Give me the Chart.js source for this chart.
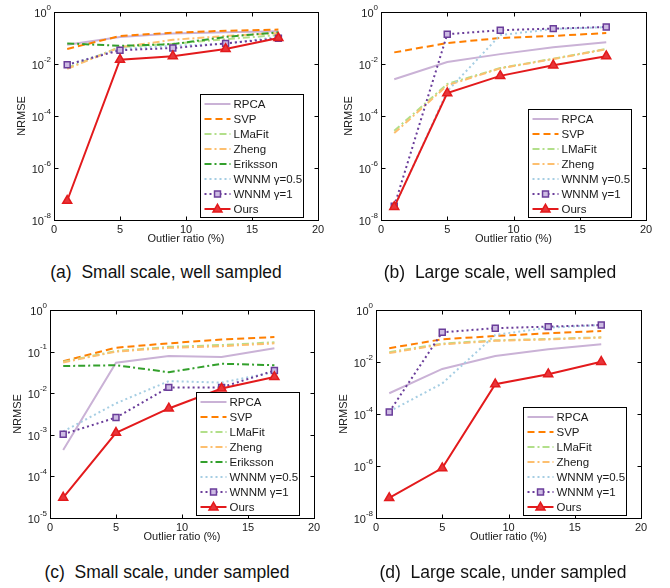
<!DOCTYPE html>
<html><head><meta charset="utf-8">
<script src="https://cdn.jsdelivr.net/npm/chart.js@4.4.1/dist/chart.umd.min.js"></script>
<style>
html,body{margin:0;padding:0;background:#fff;}
body{width:670px;height:588px;position:relative;overflow:hidden;font-family:"Liberation Sans",Arial,sans-serif;}
canvas{position:absolute;}
.cap{position:absolute;white-space:pre;font-size:17.5px;color:#111;transform:translate(-50%,-50%);line-height:1;}
</style></head>
<body>
<canvas id="ca" width="335" height="258" style="left:4px;top:0px"></canvas>
<canvas id="cb" width="336" height="258" style="left:331px;top:0px"></canvas>
<canvas id="cc" width="335" height="258" style="left:0px;top:298px"></canvas>
<canvas id="cd" width="336" height="258" style="left:326px;top:298px"></canvas>
<div class="cap" style="left:166px;top:273px">(a)  Small scale, well sampled</div>
<div class="cap" style="left:500px;top:273px">(b)  Large scale, well sampled</div>
<div class="cap" style="left:167px;top:573px">(c)  Small scale, under sampled</div>
<div class="cap" style="left:503px;top:573px">(d)  Large scale, under sampled</div>
<script>
// ---------- data ----------
const outlierRatio = [1, 5, 9, 13, 17];
const methods = ['RPCA', 'SVP', 'LMaFit', 'Zheng', 'Eriksson', 'WNNM γ=0.5', 'WNNM γ=1', 'Ours'];
const xTicks = [0, 5, 10, 15, 20];
const yExpsWide = [-8, -6, -4, -2, 0];
const yExpsNarrow = [-5, -4, -3, -2, -1, 0];

// (a) small scale, well sampled
const rpcaA     = [0.055, 0.11, 0.15, 0.165, 0.18];
const svpA      = [0.038, 0.12, 0.16, 0.19, 0.21];
const lmafitA   = [0.007, 0.045, 0.06, 0.09, 0.13];
const zhengA    = [0.0065, 0.044, 0.085, 0.12, 0.155];
const erikssonA = [0.062, 0.05, 0.058, 0.11, 0.165];
const wnnm05A   = [0.009, 0.038, 0.05, 0.06, 0.11];
const wnnm1A    = [0.0094, 0.034, 0.041, 0.062, 0.097];
const oursA     = [5.5e-8, 0.0147, 0.02, 0.038, 0.1];

// (b) large scale, well sampled
const rpcaB     = [0.0026, 0.012, 0.024, 0.044, 0.068];
const svpB      = [0.028, 0.064, 0.1, 0.12, 0.155];
const lmafitB   = [2.7e-5, 0.0017, 0.007, 0.016, 0.038];
const zhengB    = [2.2e-5, 0.0015, 0.0068, 0.0155, 0.037];
const wnnm05B   = [3e-8, 0.0009, 0.13, 0.22, 0.26];
const wnnm1B    = [3.4e-8, 0.14, 0.2, 0.23, 0.265];
const oursB     = [3.2e-8, 7.6e-4, 0.0035, 0.0089, 0.02];

// (c) small scale, under sampled
const rpcaC     = [4.3e-4, 0.054, 0.078, 0.074, 0.12];
const svpC      = [0.059, 0.124, 0.158, 0.196, 0.224];
const lmafitC   = [0.057, 0.103, 0.13, 0.144, 0.167];
const zhengC    = [0.055, 0.1, 0.123, 0.135, 0.158];
const erikssonC = [0.045, 0.047, 0.032, 0.051, 0.047];
const wnnm05C   = [0.0012, 0.0057, 0.0195, 0.018, 0.032];
const wnnm1C    = [0.00103, 0.0026, 0.0138, 0.0138, 0.035];
const oursC     = [3.1e-5, 0.00112, 0.0043, 0.013, 0.0245];

// (d) large scale, under sampled
const rpcaD     = [6.3e-4, 0.0054, 0.017, 0.031, 0.048];
const svpD      = [0.034, 0.075, 0.1, 0.127, 0.156];
const lmafitD   = [0.024, 0.051, 0.068, 0.077, 0.089];
const zhengD    = [0.022, 0.048, 0.065, 0.074, 0.087];
const wnnm05D   = [1.25e-4, 0.0015, 0.11, 0.21, 0.265];
const wnnm1D    = [1.2e-4, 0.139, 0.2, 0.23, 0.265];
const oursD     = [5.9e-8, 8.3e-7, 0.0014, 0.0034, 0.0102];

// ---------- styles ----------
const FONT = '"Liberation Sans", Arial, sans-serif';
const TEXT = '#1a1a1a';
const styleOf = {
  'RPCA':       {color:'#cab2d6', dash:[]},
  'SVP':        {color:'#ff7f00', dash:[7,4]},
  'LMaFit':     {color:'#b2df8a', dash:[7,3,2,3]},
  'Zheng':      {color:'#fdbf6f', dash:[7,3,2,3]},
  'Eriksson':   {color:'#33a02c', dash:[7,3,2,3]},
  'WNNM γ=0.5': {color:'#a6cee3', dash:[2,3]},
  'WNNM γ=1':   {color:'#6a3d9a', dash:[2,3], marker:'rect', fill:'#cdbbe3', r:4.2},
  'Ours':       {color:'#e31a1c', dash:[], marker:'triangle', fill:'#e8353a', r:5.2}
};

Chart.defaults.font.family = FONT;
Chart.defaults.color = TEXT;

function drawMarker(ctx, type, x, y, r, stroke, fill) {
  ctx.save();
  ctx.setLineDash([]);
  ctx.beginPath();
  if (type === 'rect') {
    const s = r * Math.SQRT1_2;
    ctx.rect(x - s, y - s, 2 * s, 2 * s);
  } else {
    ctx.moveTo(x, y - r);
    ctx.lineTo(x + r * 0.866, y + r * 0.5);
    ctx.lineTo(x - r * 0.866, y + r * 0.5);
    ctx.closePath();
  }
  ctx.fillStyle = fill; ctx.fill();
  ctx.lineWidth = 1.5; ctx.strokeStyle = stroke; ctx.stroke();
  ctx.restore();
}

const framePlugin = {
  id: 'matlabFrame',
  afterDraw(chart, args, opts) {
    const ctx = chart.ctx, a = chart.chartArea;
    const xs = chart.scales.x, ys = chart.scales.y;
    ctx.save();
    ctx.strokeStyle = '#000'; ctx.lineWidth = 1; ctx.setLineDash([]);
    const L = Math.round(a.left) + 0.5, R = Math.round(a.right) + 0.5;
    const T = Math.round(a.top) + 0.5, B = Math.round(a.bottom) + 0.5;
    ctx.strokeRect(L, T, R - L, B - T);
    const tl = 4;
    ctx.beginPath();
    xs.ticks.forEach(t => {
      const px = Math.round(xs.getPixelForValue(t.value)) + 0.5;
      ctx.moveTo(px, B); ctx.lineTo(px, B - tl);
      ctx.moveTo(px, T); ctx.lineTo(px, T + tl);
    });
    ys.ticks.forEach(t => {
      const py = Math.round(ys.getPixelForValue(t.value)) + 0.5;
      ctx.moveTo(L, py); ctx.lineTo(L + tl, py);
      ctx.moveTo(R, py); ctx.lineTo(R - tl, py);
    });
    ctx.stroke();
    // y tick labels with superscript exponent
    ctx.fillStyle = TEXT;
    ys.ticks.forEach(t => {
      const py = ys.getPixelForValue(t.value);
      const e = String(Math.round(Math.log10(t.value)));
      ctx.font = '8px ' + FONT;
      const ew = ctx.measureText(e).width;
      const xe = a.left - 3;
      ctx.textAlign = 'right'; ctx.textBaseline = 'alphabetic';
      ctx.fillText(e, xe, py - 2.5);
      ctx.font = '11px ' + FONT;
      ctx.fillText('10', xe - ew, py + 5);
    });
    // legend
    const n = chart.data.datasets.length;
    const rowH = 15, w = opts.legendWidth;
    const h = 9.5 + (n - 1) * rowH + 8.5;
    const bx = Math.round(a.right - opts.legendRight - w) + 0.5;
    const by = Math.round(a.bottom - opts.legendBottom - h) + 0.5;
    ctx.fillStyle = '#fff';
    ctx.fillRect(bx, by, w, h);
    ctx.strokeStyle = '#000'; ctx.lineWidth = 1;
    ctx.strokeRect(bx, by, w, h);
    chart.data.datasets.forEach((ds, i) => {
      const st = styleOf[ds.label];
      const cy = by + 9.5 + i * rowH;
      ctx.save();
      ctx.strokeStyle = st.color; ctx.lineWidth = 2; ctx.setLineDash(st.dash);
      ctx.beginPath(); ctx.moveTo(bx + 4, cy); ctx.lineTo(bx + 30, cy); ctx.stroke();
      ctx.restore();
      if (st.marker) drawMarker(ctx, st.marker, bx + 17, cy + (st.marker === 'triangle' ? 0.5 : 0), st.r, st.color, st.fill);
      ctx.fillStyle = TEXT; ctx.font = '11.5px ' + FONT;
      ctx.textAlign = 'left'; ctx.textBaseline = 'middle';
      ctx.fillText(ds.label, bx + 33, cy + 0.5);
    });
    ctx.restore();
  }
};

function makeDataset(label, values, idx, total) {
  const st = styleOf[label];
  return {
    label,
    data: outlierRatio.map((x, i) => ({x, y: values[i]})),
    borderColor: st.color,
    backgroundColor: st.fill || st.color,
    borderWidth: 2,
    borderDash: st.dash,
    pointStyle: st.marker || 'circle',
    pointRadius: st.marker ? st.r : 0,
    pointBorderColor: st.color,
    pointBackgroundColor: st.fill || st.color,
    pointBorderWidth: 1.5,
    tension: 0,
    order: total - idx
  };
}

function makeChart(id, seriesList, yExps, rightPad) {
  const datasets = seriesList.map((s, i) => makeDataset(s[0], s[1], i, seriesList.length));
  return new Chart(document.getElementById(id), {
    type: 'line',
    data: {datasets},
    plugins: [framePlugin],
    options: {
      responsive: false, animation: false, devicePixelRatio: 1,
      layout: {padding: {left: 0, top: 12, right: rightPad, bottom: 0}},
      plugins: {
        legend: {display: false}, tooltip: {enabled: false},
        matlabFrame: {legendWidth: 103, legendRight: 15, legendBottom: 3}
      },
      scales: {
        x: {
          type: 'linear', min: 0, max: 20,
          afterBuildTicks: s => { s.ticks = xTicks.map(v => ({value: v})); },
          afterFit: s => { s.height = 38; },
          grid: {display: false, drawTicks: false},
          border: {display: false},
          ticks: {padding: 3, font: {size: 11}, color: TEXT, maxRotation: 0},
          title: {display: true, text: 'Outlier ratio (%)', font: {size: 11, lineHeight: 1.2}, color: TEXT, padding: {top: 0, bottom: 12}}
        },
        y: {
          type: 'logarithmic', min: Math.pow(10, yExps[0]), max: Math.pow(10, yExps[yExps.length - 1]),
          afterBuildTicks: s => { s.ticks = yExps.map(e => ({value: Math.pow(10, e)})); },
          afterFit: s => { s.width = 50; },
          grid: {display: false, drawTicks: false},
          border: {display: false},
          ticks: {display: false},
          title: {display: true, text: 'NRMSE', font: {size: 11, lineHeight: 1.2}, color: TEXT, padding: {top: 11.4, bottom: 0}}
        }
      }
    }
  });
}

makeChart('ca', [
  [methods[0], rpcaA], [methods[1], svpA], [methods[2], lmafitA], [methods[3], zhengA],
  [methods[4], erikssonA], [methods[5], wnnm05A], [methods[6], wnnm1A], [methods[7], oursA]
], yExpsWide, 21);
makeChart('cb', [
  [methods[0], rpcaB], [methods[1], svpB], [methods[2], lmafitB], [methods[3], zhengB],
  [methods[5], wnnm05B], [methods[6], wnnm1B], [methods[7], oursB]
], yExpsWide, 21);
makeChart('cc', [
  [methods[0], rpcaC], [methods[1], svpC], [methods[2], lmafitC], [methods[3], zhengC],
  [methods[4], erikssonC], [methods[5], wnnm05C], [methods[6], wnnm1C], [methods[7], oursC]
], yExpsNarrow, 21);
makeChart('cd', [
  [methods[0], rpcaD], [methods[1], svpD], [methods[2], lmafitD], [methods[3], zhengD],
  [methods[5], wnnm05D], [methods[6], wnnm1D], [methods[7], oursD]
], yExpsWide, 21);
</script>
</body></html>
